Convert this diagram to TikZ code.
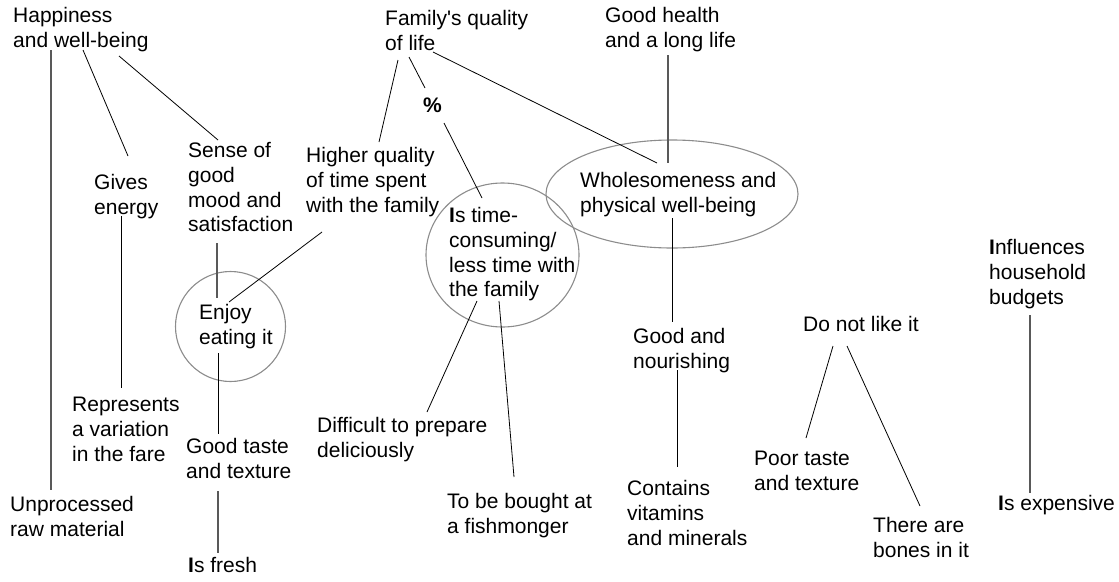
\documentclass[tikz,border=0pt]{standalone}
\usepackage{fontspec}
\setmainfont{Liberation Sans}
\usepackage{tikz}
\usetikzlibrary{positioning}

\begin{document}
\begin{tikzpicture}[
        x = 1pt, y = -1pt,
        mtext/.style = {anchor = north west, inner sep = 0pt, align = left, font = \fontsize{21}{24.8}\selectfont},
        mlink/.style = {black, line width = 0.8pt},
        mlinkg/.style = {black!65, line width = 1.3pt},
        mring/.style = {black!45, line width = 1.1pt}
        ]
        \useasboundingbox (0,0) rectangle (1119,581);

        \draw[mring] (230.5,326.5) circle [radius = 55];
        \draw[mring] (502.5,255) ellipse [x radius = 76.5, y radius = 72];
        \draw[mring] (672,194) ellipse [x radius = 126, y radius = 54];

        \node[mtext] (happy) at (13,7) {Happiness\\and well-being};
        \node[mtext] (family) at (385,10) {Family\textquotesingle s quality\\of life};
        \node[mtext] (health) at (605,7) {Good health\\and a long life};
        \node[mtext, anchor = base west, font = \fontsize{21}{24.8}\selectfont\bfseries] (pct) at (423,112) {\%};

        \node[mtext] (gives) at (94,174) {Gives\\energy};
        \node[mtext] (sense) at (188,142) {Sense of\\good\\mood and\\satisfaction};
        \node[mtext] (higher) at (306,147) {Higher quality\\of time spent\\with the family};
        \node[mtext] (timecons) at (449,207) {\textbf{I}s time-\\consuming/\\less time with\\the family};
        \node[mtext] (whole) at (580,172) {Wholesomeness and\\physical well-being};
        \node[mtext] (budget) at (989,239) {\textbf{I}nfluences\\household\\budgets};

        \node[mtext] (enjoy) at (199,304) {Enjoy\\eating it};
        \node[mtext] (nourish) at (633,328) {Good and\\nourishing};
        \node[mtext] (dislike) at (803,316) {Do not like it};

        \node[mtext] (repr) at (72,397) {Represents\\a variation\\in the fare};
        \node[mtext] (taste) at (186,438) {Good taste\\and texture};
        \node[mtext] (difficult) at (317,417) {Difficult to prepare\\deliciously};
        \node[mtext] (poor) at (754,451) {Poor taste\\and texture};
        \node[mtext] (vitamins) at (627,480) {Contains\\vitamins\\and minerals};
        \node[mtext] (bought) at (447,493) {To be bought at\\a fishmonger};
        \node[mtext] (expensive) at (998,495) {\textbf{I}s expensive};
        \node[mtext] (unproc) at (10,496) {Unprocessed\\raw material};
        \node[mtext] (bones) at (873,517) {There are\\bones in it};
        \node[mtext] (fresh) at (188,557) {\textbf{I}s fresh};

        % happiness branch
        \draw[mlinkg] ([shift={(38,43)}]happy.north west) -- ([shift={(41,-6)}]unproc.north west);
        \draw[mlink] ([shift={(70,43)}]happy.north west) -- ([shift={(34,-18)}]gives.north west);
        \draw[mlink] ([shift={(106,49)}]happy.north west) -- ([shift={(30,-2)}]sense.north west);
        \draw[mlink] ([shift={(27,42)}]gives.north west) -- ([shift={(49,-9)}]repr.north west);
        \draw[mlinkg] ([shift={(29,101)}]sense.north west) -- ([shift={(18,-6)}]enjoy.north west);
        \draw[mlink] ([shift={(16,85)}]higher.north west) -- ([shift={(30,-2)}]enjoy.north west);
        \draw[mlink] ([shift={(19,49)}]enjoy.north west) -- ([shift={(32,-4)}]taste.north west);
        \draw[mlinkg] ([shift={(32,53)}]taste.north west) -- ([shift={(30,-4)}]fresh.north west);

        % family branch
        \draw[mlink] ([shift={(13,50)}]family.north west) -- ([shift={(73,-5)}]higher.north west);
        \draw[mlink] ([shift={(24,47)}]family.north west) -- ([shift={(2,-24)}]pct.base west);
        \draw[mlink] ([shift={(21,11)}]pct.base west) -- ([shift={(33,-9)}]timecons.north west);
        \draw[mlink] ([shift={(48,42)}]family.north west) -- ([shift={(77,-9)}]whole.north west);
        \draw[mlink] ([shift={(28,94)}]timecons.north west) -- ([shift={(110,-5)}]difficult.north west);
        \draw[mlink] ([shift={(50,94)}]timecons.north west) -- ([shift={(67,-16)}]bought.north west);

        % health branch
        \draw[mlinkg] ([shift={(63,48)}]health.north west) -- ([shift={(88,-9)}]whole.north west);
        \draw[mlink] ([shift={(92,46)}]whole.north west) -- ([shift={(39,-6)}]nourish.north west);
        \draw[mlink] ([shift={(44,42)}]nourish.north west) -- ([shift={(50,-13)}]vitamins.north west);

        \draw[mlink] ([shift={(30,30)}]dislike.north west) -- ([shift={(52,-13)}]poor.north west);
        \draw[mlink] ([shift={(44,30)}]dislike.north west) -- ([shift={(47,-11)}]bones.north west);
        \draw[mlinkg] ([shift={(41,76)}]budget.north west) -- ([shift={(32,-2)}]expensive.north west);

    \end{tikzpicture}
\end{document}
